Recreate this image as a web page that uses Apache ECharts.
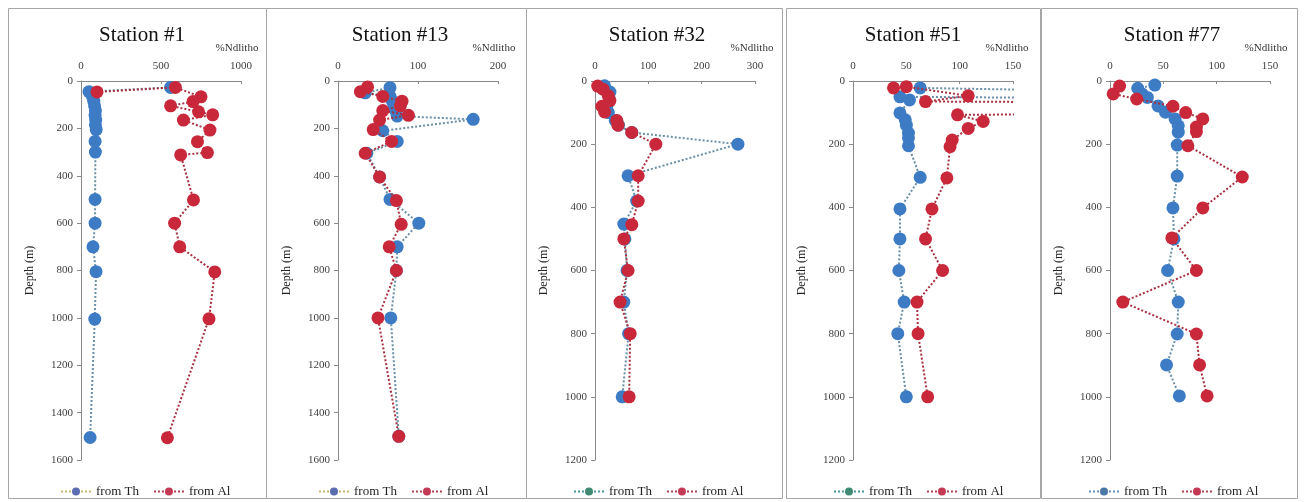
<!DOCTYPE html>
<html>
<head>
<meta charset="utf-8">
<script src="https://cdn.jsdelivr.net/npm/echarts@6/dist/echarts.min.js"></script>
<style>html,body{margin:0;padding:0;background:#fff;}#c{width:1308px;height:502px;}</style>
</head>
<body>
<div id="c"></div>
<script>
// ---- data: [%Ndlitho, depth (m)] ----
const stations = ['Station #1', 'Station #13', 'Station #32', 'Station #51', 'Station #77'];
const seriesNames = ['from Th', 'from Al'];

const st1Th = [[560,27],[50,45],[72,65],[80,85],[85,105],[90,125],[88,145],[92,165],[90,185],[95,205],[88,255],[90,300],[88,500],[88,600],[75,700],[94,805],[86,1005],[57,1505]];
const st1Al = [[100,46],[590,27],[750,67],[700,87],[560,105],[735,130],[823,143],[640,165],[806,207],[728,256],[790,302],[623,312],[703,502],[585,600],[617,700],[836,806],[800,1004],[540,1506]];

const st13Th = [[65,28],[34,50],[65,65],[68,85],[70,105],[72,125],[74,148],[169,162],[56,210],[74,255],[36,305],[52,405],[65,500],[101,600],[74,700],[73,800],[66,1000],[76,1500]];
const st13Al = [[37,25],[28,45],[56,65],[80,85],[78,105],[56,125],[88,145],[52,165],[44,205],[67,255],[34,305],[52,405],[73,505],[79,605],[64,700],[73,800],[50,1000],[76,1500]];

const st32Th = [[18,15],[28,35],[26,50],[22,80],[25,100],[38,125],[44,140],[69,163],[268,200],[62,300],[78,380],[54,453],[56,500],[60,600],[54,700],[63,800],[51,1000]];
const st32Al = [[5,16],[15,26],[25,47],[28,62],[13,80],[18,98],[41,125],[43,140],[69,163],[114,200],[81,300],[81,380],[69,455],[54,500],[62,600],[47,700],[66,800],[64,1000]];

const st51Th = [[63,22],[900,70],[44,50],[53,60],[44,101],[49,123],[50,140],[52,165],[52,180],[52,205],[63,305],[44,405],[44,500],[43,600],[48,700],[42,800],[50,1000]];
const st51Al = [[38,22],[50,18],[108,47],[68,65],[1500,85],[98,107],[122,128],[108,150],[93,187],[91,208],[88,307],[74,405],[68,500],[84,600],[60,700],[61,800],[70,1000]];

const st77Th = [[42,13],[26,23],[30,41],[35,52],[45,79],[52,99],[61,120],[64,142],[64,162],[63,203],[63,301],[59,402],[60,500],[54,600],[64,700],[63,801],[53,899],[65,997]];
const st77Al = [[9,16],[3,41],[25,57],[59,80],[71,100],[87,120],[81,146],[81,160],[73,205],[124,304],[87,402],[58,497],[81,600],[12,700],[81,801],[84,899],[91,997]];

const thData = [st1Th, st13Th, st32Th, st51Th, st77Th];
const alData = [st1Al, st13Al, st32Al, st51Al, st77Al];

// axis ranges
const xMax = [1000, 200, 300, 150, 150];
const xInterval = [500, 100, 100, 50, 50];
const yMax = [1600, 1600, 1200, 1200, 1200];
const yInterval = [200, 200, 200, 200, 200];

// ---- layout ----
const gridLeft = [81, 338, 595, 853, 1110];
const gridWidth = 160;
const gridTop = 81, gridHeight = 379;
const panels = [[8,258],[266,260],[526,256],[786,254],[1041,256]];
const titleX = [137, 395, 652, 908, 1167];
const unitX = [237, 494, 752, 1007, 1266];
const legendLeft = [55, 313, 568, 828, 1083];
const legendThColors = [
  {m:'#5b6db0', l:'#c9b56a'}, {m:'#5b6db0', l:'#c9b56a'},
  {m:'#3f8a72', l:'#4a9a9a'}, {m:'#3f8a72', l:'#4a9a9a'}, {m:'#4a78a8', l:'#6a8fb8'}
];

const FONT = 'Liberation Serif, Times New Roman, serif';
const BLUE = '#3d7cc5', RED = '#c9283b';
const TH_LINE = '#6b8fa6', AL_LINE = '#a8303f';
const plain = v => String(v);

const grids = [], xAxes = [], yAxes = [], series = [], titles = [], legends = [], graphics = [];
for (let i = 0; i < 5; i++) {
  grids.push({left: gridLeft[i], top: gridTop, width: gridWidth, height: gridHeight, containLabel: false});
  xAxes.push({
    type: 'value', gridIndex: i, position: 'top', min: 0, max: xMax[i], interval: xInterval[i],
    axisLine: {show: true, onZero: false, lineStyle: {color: '#8a8a8a', width: 1}},
    axisTick: {show: true, inside: true, length: 3, lineStyle: {color: '#8a8a8a'}},
    axisLabel: {fontFamily: FONT, fontSize: 11, color: '#404040', margin: 9, formatter: plain},
    splitLine: {show: false}
  });
  yAxes.push({
    type: 'value', gridIndex: i, inverse: true, min: 0, max: yMax[i], interval: yInterval[i],
    name: 'Depth (m)', nameLocation: 'middle', nameGap: 45, nameRotate: 90,
    nameTextStyle: {fontFamily: FONT, fontSize: 12, color: '#222'},
    axisLine: {show: true, onZero: false, lineStyle: {color: '#8a8a8a', width: 1}},
    axisTick: {show: true, inside: false, length: 4, lineStyle: {color: '#8a8a8a'}},
    axisLabel: {fontFamily: FONT, fontSize: 11, color: '#404040', margin: 8, formatter: plain},
    splitLine: {show: false}
  });
  series.push({
    name: seriesNames[0], type: 'line', xAxisIndex: i, yAxisIndex: i, data: thData[i],
    symbol: 'circle', symbolSize: 13, clip: true,
    itemStyle: {color: BLUE},
    lineStyle: {color: TH_LINE, width: 2, type: 'dotted'},
    z: 2
  });
  series.push({
    name: seriesNames[1], type: 'line', xAxisIndex: i, yAxisIndex: i, data: alData[i],
    symbol: 'circle', symbolSize: 13, clip: true,
    itemStyle: {color: RED},
    lineStyle: {color: AL_LINE, width: 2, type: 'dotted'},
    z: 3
  });
  titles.push({
    text: stations[i], left: titleX[i], top: 20, textAlign: 'center',
    textStyle: {fontFamily: FONT, fontSize: 21, fontWeight: 'normal', color: '#111'}
  });
  legends.push({
    left: legendLeft[i], top: 480, itemWidth: 30, itemHeight: 10, itemGap: 14, selectedMode: false,
    textStyle: {fontFamily: FONT, fontSize: 13, color: '#222'},
    data: [
      {name: seriesNames[0], itemStyle: {color: legendThColors[i].m}, lineStyle: {color: legendThColors[i].l, type: 'dotted', width: 2}},
      {name: seriesNames[1], itemStyle: {color: '#c43a55'}, lineStyle: {color: '#b04050', type: 'dotted', width: 2}}
    ]
  });
  graphics.push({
    type: 'rect', silent: true, z: -1,
    shape: {x: panels[i][0] + 0.5, y: 8.5, width: panels[i][1], height: 490},
    style: {fill: 'none', stroke: '#a6a6a6', lineWidth: 1}
  });
  graphics.push({
    type: 'text', silent: true,
    style: {text: '%Ndlitho', x: unitX[i], y: 48, textAlign: 'center', textVerticalAlign: 'middle',
      font: '11px ' + FONT, fill: '#333'}
  });
}

const chart = echarts.init(document.getElementById('c'), null, {renderer: 'canvas'});
chart.setOption({
  backgroundColor: '#ffffff',
  animation: false,
  title: titles,
  legend: legends,
  grid: grids,
  xAxis: xAxes,
  yAxis: yAxes,
  series: series,
  graphic: graphics
});
</script>
</body>
</html>
